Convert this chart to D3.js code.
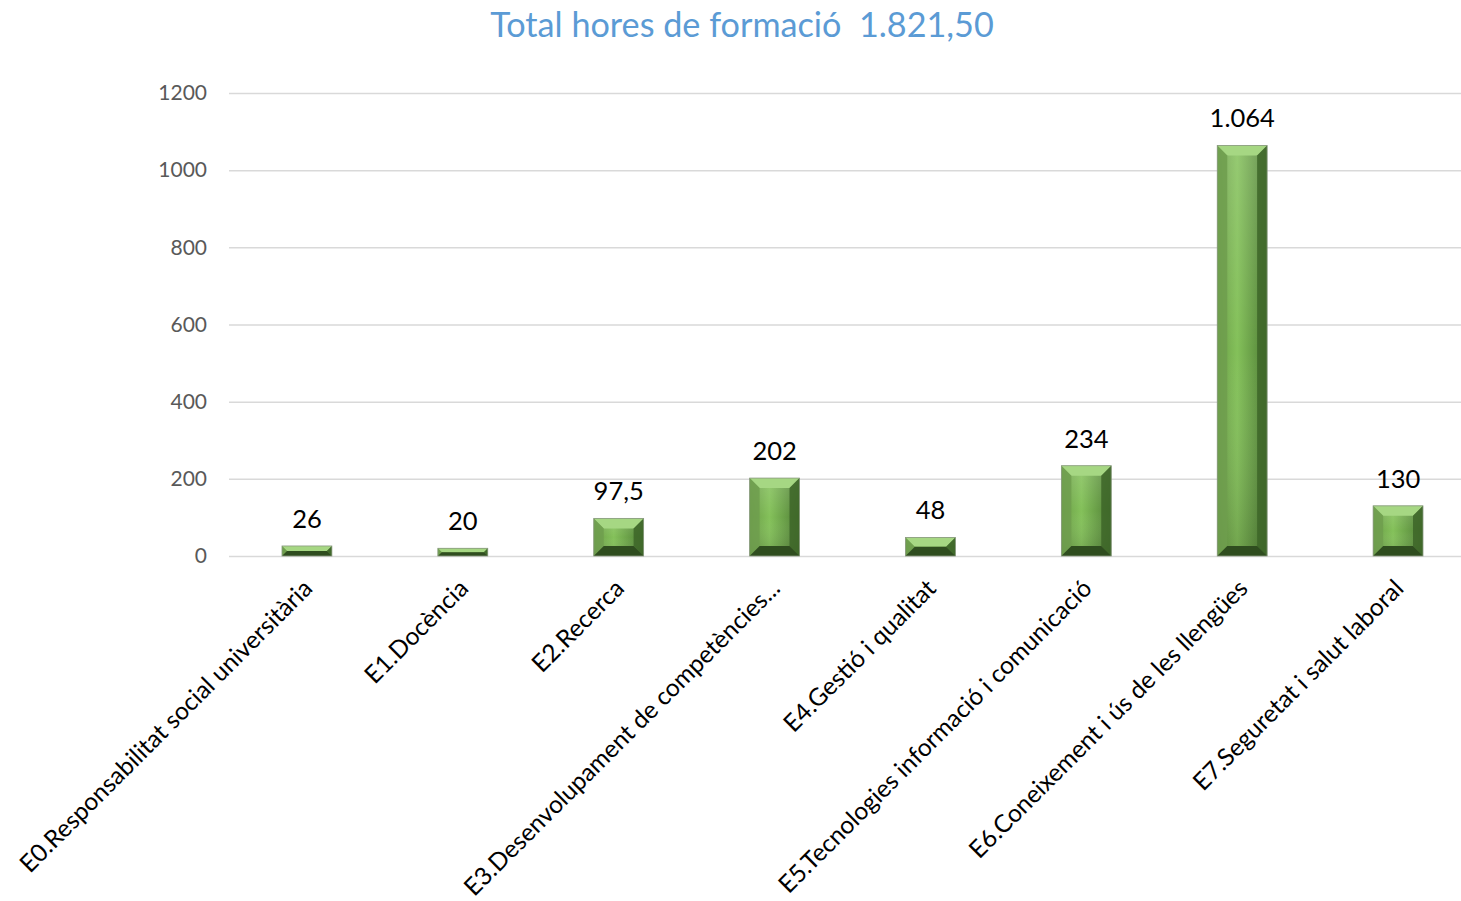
<!DOCTYPE html>
<html>
<head>
<meta charset="utf-8">
<script src="https://cdn.jsdelivr.net/npm/d3@7"></script>
<style>
  body { margin: 0; background: #fff; }
  svg { display: block; }
</style>
</head>
<body>
<svg width="1461" height="901"></svg>
<script>
// chart values
const categories = [
  "E0.Responsabilitat social universitària",
  "E1.Docència",
  "E2.Recerca",
  "E3.Desenvolupament de competències...",
  "E4.Gestió i qualitat",
  "E5.Tecnologies informació i comunicació",
  "E6.Coneixement i ús de les llengües",
  "E7.Seguretat i salut laboral"
];
const hours = [26, 20, 97.5, 202, 48, 234, 1064, 130];
const valueLabels = ["26", "20", "97,5", "202", "48", "234", "1.064", "130"];
const yTicks = [0, 200, 400, 600, 800, 1000, 1200];
const title = "Total hores de formació  1.821,50";

const font = "Lato, 'Open Sans', sans-serif";

let svg = d3.select("svg");

let x = d3.scaleBand()
  .domain(categories)
  .range([229, 1476])
  .paddingInner(0.68)
  .paddingOuter(0.34);

let y = d3.scaleLinear().domain([0, 1200]).range([556, 93]);

// title
svg.append("text")
  .attr("x", 742)
  .attr("y", 37)
  .attr("text-anchor", "middle")
  .style("white-space", "pre")
  .style("font-family", font)
  .style("font-size", "34.2px")
  .style("fill", "#5b9bd5")
  .text(title);

// gridlines + y axis labels
let yAxis = svg.append("g")
  .attr("transform", "translate(229,0)")
  .call(d3.axisLeft(y).tickValues(yTicks).tickSize(-1250).tickPadding(22).tickFormat(d3.format("d")));
yAxis.select(".domain").remove();
yAxis.selectAll("line").attr("stroke", "#d9d9d9").attr("stroke-width", 1.5);
yAxis.selectAll("text")
  .style("font-family", font)
  .style("font-size", "21px")
  .style("fill", "#595959");

// gradients for bar face
let defs = svg.append("defs");
let grad = defs.append("linearGradient").attr("id", "face").attr("x1", 0).attr("x2", 1).attr("y1", 0).attr("y2", 0);
grad.append("stop").attr("offset", "0%").attr("stop-color", "#6a9d47");
grad.append("stop").attr("offset", "40%").attr("stop-color", "#84c15a");
grad.append("stop").attr("offset", "100%").attr("stop-color", "#4f7e35");
let vgrad = defs.append("linearGradient").attr("id", "shade").attr("x1", 0).attr("x2", 0).attr("y1", 0).attr("y2", 1);
vgrad.append("stop").attr("offset", "0%").attr("stop-color", "#ffffff").attr("stop-opacity", 0.15);
vgrad.append("stop").attr("offset", "50%").attr("stop-color", "#ffffff").attr("stop-opacity", 0);
vgrad.append("stop").attr("offset", "100%").attr("stop-color", "#000000").attr("stop-opacity", 0.15);

let data = categories.map((c, i) => ({ cat: c, v: hours[i], label: valueLabels[i] }));

let bars = svg.append("g").selectAll("g")
  .data(data)
  .enter()
  .append("g");

bars.each(function (d) {
  let g = d3.select(this);
  let x0 = x(d.cat), w = x.bandwidth();
  let y0 = y(d.v), y1 = y(0), h = y1 - y0;
  let b = Math.min(10, h / 2, w / 2);
  let x1 = x0 + w;
  const pts = (arr) => arr.map((p) => p.join(",")).join(" ");
  // face
  g.append("rect").attr("x", x0).attr("y", y0).attr("width", w).attr("height", h).attr("fill", "url(#face)");
  g.append("rect").attr("x", x0).attr("y", y0).attr("width", w).attr("height", h).attr("fill", "url(#shade)");
  // top bevel
  g.append("polygon").attr("points", pts([[x0, y0], [x1, y0], [x1 - b, y0 + b], [x0 + b, y0 + b]])).attr("fill", "#a6d783");
  // left bevel
  g.append("polygon").attr("points", pts([[x0, y0], [x0 + b, y0 + b], [x0 + b, y1 - b], [x0, y1]])).attr("fill", "#6e9e4e").attr("opacity", 0.85);
  // right bevel
  g.append("polygon").attr("points", pts([[x1, y0], [x1 - b, y0 + b], [x1 - b, y1 - b], [x1, y1]])).attr("fill", "#3d6528").attr("opacity", 0.85);
  // bottom bevel
  g.append("polygon").attr("points", pts([[x0, y1], [x0 + b, y1 - b], [x1 - b, y1 - b], [x1, y1]])).attr("fill", "#2f4d1f");
  // outline
  g.append("rect").attr("x", x0).attr("y", y0).attr("width", w).attr("height", h)
    .attr("fill", "none").attr("stroke", "#8a9a80").attr("stroke-width", 0.8);
  // value label
  g.append("text")
    .attr("x", x0 + w / 2)
    .attr("y", y0 - 18)
    .attr("text-anchor", "middle")
    .style("font-family", font)
    .style("font-size", "25.5px")
    .style("fill", "#000")
    .text(d.label);
});

// category labels, rotated
svg.append("g").selectAll("text")
  .data(categories)
  .enter()
  .append("text")
  .attr("text-anchor", "end")
  .attr("transform", (d) => "translate(" + (x(d) + x.bandwidth() / 2 + 7) + ",590) rotate(-45)")
  .style("font-family", font)
  .style("font-size", "24.5px")
  .style("fill", "#000")
  .text((d) => d);
</script>
</body>
</html>
